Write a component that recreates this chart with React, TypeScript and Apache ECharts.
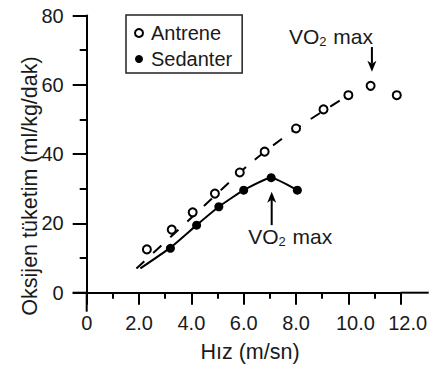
import React, { useEffect, useRef } from "react";
import * as echarts from "echarts";

// ---- data ----
const antreneX = [2.3, 3.25, 4.05, 4.9, 5.85, 6.8, 8.0, 9.05, 10.0, 10.85, 11.85];
const antreneY = [12.5, 18.2, 23.2, 28.6, 34.7, 40.7, 47.4, 52.9, 57.0, 59.7, 57.0];
const sedanterX = [3.2, 4.2, 5.05, 6.0, 7.05, 8.05];
const sedanterY = [12.8, 19.5, 24.8, 29.6, 33.2, 29.6];
const antreneFitX = [1.9, 4.0, 6.25, 8.0, 10.0];
const antreneFitY = [7.0, 21.6, 37.3, 47.3, 57.0];
const sedanterFitX = [2.05, 3.2, 4.2, 5.05, 6.0, 7.05, 8.05];
const sedanterFitY = [7.0, 13.0, 19.5, 24.8, 29.6, 33.2, 29.6];
const seriesNames = ["Antrene", "Sedanter"];
const xAxisTitle = "Hız (m/sn)";
const yAxisTitle = "Oksijen tüketim (ml/kg/dak)";
const vo2Parts = ["VO", "2", " max"];

// annotation anchors in data coordinates
const arrowAntrene = { x: 10.9, tip: 63.8, tail: 70.9 };
const arrowSedanter = { x: 7.07, tip: 29.1, tail: 19.5 };
const labelAntrene = { x: 10.94, y: 73.9 };
const labelSedanter = { x: 6.17, y: 16.1 };

const FONT = "'Liberation Sans', Arial, Helvetica, sans-serif";
const INK = "#1a1a1a";

const zip = (xs: number[], ys: number[]) => xs.map((x, i) => [x, ys[i]]);

export default function App() {
  const ref = useRef<HTMLDivElement>(null);
  useEffect(() => {
    if (!ref.current) return;
    const chart = echarts.init(ref.current, null, { renderer: "svg" });
    const option: any = {
      animation: false,
      backgroundColor: "#ffffff",
      textStyle: { fontFamily: FONT },
      grid: {
        left: 86.7,
        top: 15.5,
        width: 314,
        height: 277.2,
        containLabel: false,
        outerBoundsMode: "none",
      },
      legend: {
        show: true,
        data: seriesNames,
        orient: "vertical",
        left: 126,
        top: 15,
        padding: [8, 10, 4, 8],
        itemGap: 6,
        itemWidth: 14,
        itemHeight: 8,
        borderColor: "#222",
        borderWidth: 1.5,
        backgroundColor: "#fff",
        textStyle: { fontSize: 20, color: INK, fontFamily: FONT, lineHeight: 20 },
        icon: "circle",
      },
      xAxis: {
        type: "value",
        min: 0,
        max: 12,
        interval: 2,
        splitLine: { show: false },
        axisLine: { show: true, onZero: false, lineStyle: { color: "#000", width: 2 } },
        axisTick: { show: true, length: 12, lineStyle: { color: "#000", width: 2 } },
        minorTick: { show: true, splitNumber: 2, length: 6, lineStyle: { color: "#000", width: 2 } },
        axisLabel: {
          margin: 20,
          fontSize: 20,
          color: INK,
          fontFamily: FONT,
          formatter: (v: number) => {
            const s = v === 0 ? "0" : v.toFixed(1);
            return v >= 10 ? `{w|${s}}` : s;
          },
          rich: {
            w: { fontSize: 20, color: INK, fontFamily: FONT, padding: [0, 0, 0, 14] },
          },
        },
      },
      yAxis: {
        type: "value",
        min: 0,
        max: 80,
        interval: 20,
        splitLine: { show: false },
        axisLine: { show: true, onZero: false, lineStyle: { color: "#000", width: 2 } },
        axisTick: { show: true, length: 14, lineStyle: { color: "#000", width: 2 } },
        minorTick: { show: true, splitNumber: 2, length: 7, lineStyle: { color: "#000", width: 2 } },
        axisLabel: { margin: 23, fontSize: 20, color: INK, fontFamily: FONT },
      },
      series: [
        {
          name: "AntreneFit",
          type: "line",
          data: zip(antreneFitX, antreneFitY),
          smooth: 0.3,
          showSymbol: false,
          symbol: "none",
          lineStyle: { color: "#000", width: 2, type: [11, 12] },
          z: 1,
          silent: true,
        },
        {
          name: "SedanterFit",
          type: "line",
          data: zip(sedanterFitX, sedanterFitY),
          smooth: 0.15,
          showSymbol: false,
          symbol: "none",
          lineStyle: { color: "#000", width: 2 },
          z: 1,
          silent: true,
        },
        {
          name: seriesNames[0],
          type: "scatter",
          data: zip(antreneX, antreneY),
          symbol: "circle",
          symbolSize: 8,
          itemStyle: { color: "#fff", borderColor: "#000", borderWidth: 2, opacity: 1 },
          z: 3,
        },
        {
          name: seriesNames[1],
          type: "scatter",
          data: zip(sedanterX, sedanterY),
          symbol: "circle",
          symbolSize: 9,
          itemStyle: { color: "#000", borderColor: "#000", borderWidth: 0, opacity: 1 },
          z: 3,
        },
      ],
    };
    chart.setOption(option);

    const px = (x: number, y: number) =>
      chart.convertToPixel({ gridIndex: 0 } as any, [x, y]) as number[];
    const o = px(0, 0);
    const xEnd = px(12, 0);
    const lineStyle = { stroke: "#000", lineWidth: 2 };

    const a1Tip = px(arrowAntrene.x, arrowAntrene.tip);
    const a1Tail = px(arrowAntrene.x, arrowAntrene.tail);
    const a2Tip = px(arrowSedanter.x, arrowSedanter.tip);
    const a2Tail = px(arrowSedanter.x, arrowSedanter.tail);
    const l1 = px(labelAntrene.x, labelAntrene.y);
    const l2 = px(labelSedanter.x, labelSedanter.y);

    const richVO = {
      n: { fontSize: 21, fontFamily: FONT, fill: INK, color: INK },
      s: { fontSize: 13, fontFamily: FONT, fill: INK, color: INK, padding: [10, 1, 0, 0] },
    };
    const voText = `{n|${vo2Parts[0]}}{s|${vo2Parts[1]}}{n|${vo2Parts[2]}}`;

    chart.setOption({
      graphic: [
        { type: "line", shape: { x1: o[0] - 14, y1: o[1], x2: o[0], y2: o[1] }, style: lineStyle, z: 10 },
        { type: "line", shape: { x1: xEnd[0], y1: o[1], x2: xEnd[0] + 28, y2: o[1] }, style: lineStyle, z: 10 },
        { type: "line", shape: { x1: o[0], y1: o[1], x2: o[0], y2: o[1] + 19 }, style: lineStyle, z: 10 },
        // arrow (Antrene) pointing down
        { type: "line", shape: { x1: a1Tail[0], y1: a1Tail[1], x2: a1Tip[0], y2: a1Tip[1] - 8 }, style: lineStyle, z: 10 },
        {
          type: "polygon",
          shape: { points: [[a1Tip[0] - 4.5, a1Tip[1] - 11], [a1Tip[0], a1Tip[1] - 8], [a1Tip[0] + 4.5, a1Tip[1] - 11], [a1Tip[0], a1Tip[1]]] },
          style: { fill: "#000" },
          z: 10,
        },
        // arrow (Sedanter) pointing up
        { type: "line", shape: { x1: a2Tail[0], y1: a2Tail[1], x2: a2Tip[0], y2: a2Tip[1] + 8 }, style: lineStyle, z: 10 },
        {
          type: "polygon",
          shape: { points: [[a2Tip[0] - 4.5, a2Tip[1] + 11], [a2Tip[0], a2Tip[1] + 8], [a2Tip[0] + 4.5, a2Tip[1] + 11], [a2Tip[0], a2Tip[1]]] },
          style: { fill: "#000" },
          z: 10,
        },
        {
          type: "text",
          x: l1[0],
          y: l1[1],
          style: { text: voText, rich: richVO, align: "right", verticalAlign: "middle", fill: INK, fontSize: 21, fontFamily: FONT },
          z: 10,
        },
        {
          type: "text",
          x: l2[0],
          y: l2[1],
          style: { text: voText, rich: richVO, align: "left", verticalAlign: "middle", fill: INK, fontSize: 21, fontFamily: FONT },
          z: 10,
        },
        {
          type: "text",
          x: 250,
          y: 352,
          style: { text: xAxisTitle, align: "center", verticalAlign: "middle", fill: INK, fontSize: 21.5, fontFamily: FONT },
          z: 10,
        },
        {
          type: "text",
          x: 29.5,
          y: 186,
          rotation: Math.PI / 2,
          style: { text: yAxisTitle, align: "center", verticalAlign: "middle", fill: INK, fontSize: 21.5, fontFamily: FONT },
          z: 10,
        },
      ],
    });

    return () => chart.dispose();
  }, []);
  return (
    <div
      ref={ref}
      style={{ position: "absolute", left: 0, top: 0, width: 431, height: 367, background: "#fff" }}
    />
  );
}
